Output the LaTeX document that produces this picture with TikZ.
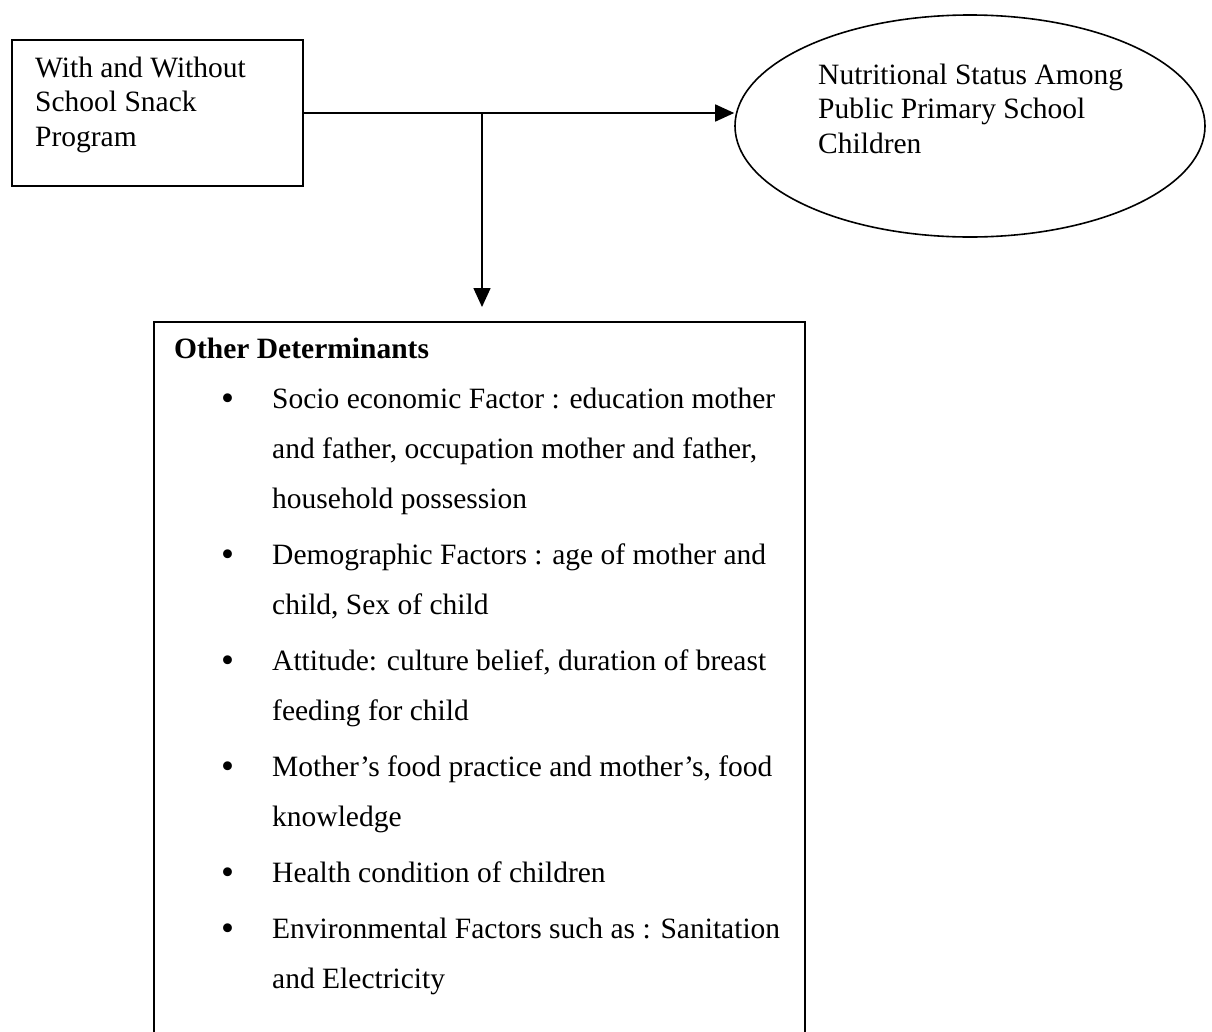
\documentclass[tikz,border=0pt]{standalone}
\usepackage{fontspec}
\setmainfont{Liberation Serif}
\usetikzlibrary{arrows.meta,shapes.geometric}
\begin{document}
\begin{tikzpicture}[x=1pt,y=-1pt,
  txt/.style={anchor=base west,inner sep=0pt,font=\fontsize{29.5}{34.5}\selectfont,align=left},
  itm/.style={anchor=base west,inner sep=0pt,font=\fontsize{29.5}{50}\selectfont,align=left},
  bul/.style={anchor=base west,inner sep=0pt,font=\fontsize{37}{40}\selectfont},
  arr/.style={line width=1.6pt,-{Triangle[length=19pt,width=17pt]}},
  frame/.style={draw,line width=1.6pt}]
\path[use as bounding box] (0,0) rectangle (1212,1031);
\clip (0,0) rectangle (1212,1031);
\fill[white] (0,0) rectangle (1212,1031);
% top-left box
\node[frame,rectangle,minimum width=291pt,minimum height=146pt,inner sep=0pt] (prog) at (157.5,113) {};
\node[txt] (progtxt) at (35,146) {With and Without\\School Snack\\Program};
% ellipse
\node[frame,ellipse,minimum width=470pt,minimum height=222pt,inner sep=0pt] (out) at (970,126) {};
\node[txt] (outtxt) at (818,153) {Nutritional Status Among\\Public Primary School\\Children};
% determinants box (cut off at bottom)
\node[frame,rectangle,minimum width=651pt,minimum height=760pt,inner sep=0pt,anchor=north west] (det) at (153,321) {};
\coordinate (j) at (482,113);
\draw[arr] (prog.east) -- (prog.east -| out.west);
\draw[arr,shorten >=14pt] (j) -- (j |- det.north);
% contents
\node[txt,font=\fontsize{29.5}{34.5}\selectfont\bfseries] (hdr) at (174,358) {Other Determinants};
\node[bul] (b1) at (221,410) {\textbullet};
\node[itm] (i1) at (272,508) {Socio economic Factor : education mother\\and father, occupation mother and father,\\household possession};
\node[bul] (b2) at (221,566) {\textbullet};
\node[itm] (i2) at (272,614) {Demographic Factors : age of mother and\\child, Sex of child};
\node[bul] (b3) at (221,672) {\textbullet};
\node[itm] (i3) at (272,720) {Attitude: culture belief, duration of breast\\feeding for child};
\node[bul] (b4) at (221,778) {\textbullet};
\node[itm] (i4) at (272,826) {Mother’s food practice and mother’s, food\\knowledge};
\node[bul] (b5) at (221,884) {\textbullet};
\node[itm] (i5) at (272,882) {Health condition of children};
\node[bul] (b6) at (221,940) {\textbullet};
\node[itm] (i6) at (272,988) {Environmental Factors such as : Sanitation\\and Electricity};
\end{tikzpicture}
\end{document}
